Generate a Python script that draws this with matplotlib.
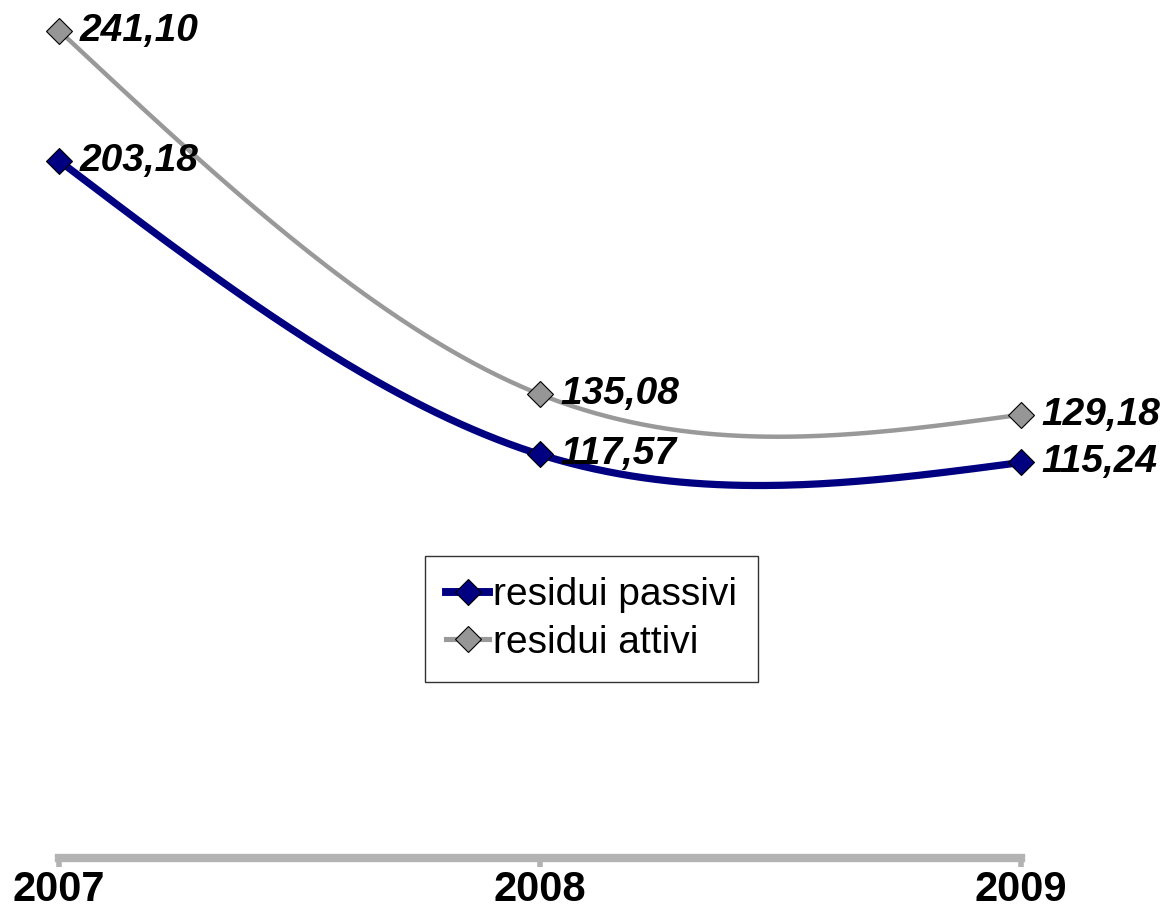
import matplotlib

matplotlib.use("Agg")
import matplotlib.pyplot as plt
import numpy as np

plt.rcParams["font.family"] = ["Liberation Sans", "DejaVu Sans"]

years = [2007, 2008, 2009]
residui_passivi = [203.18, 117.57, 115.24]
residui_attivi = [241.10, 135.08, 129.18]


def fmt(value: float) -> str:
    return f"{value:.2f}".replace(".", ",")


def smooth(xs, ys, n=80):
    # Excel-style smoothed line: Bezier segments, tangent (next - prev) / 6,
    # end control points halfway between the end point and its neighbour control.
    pts = np.column_stack([xs, ys]).astype(float)
    out = [pts[:1]]
    last = len(pts) - 1
    for i in range(last):
        p1, p2 = pts[i], pts[i + 1]
        c1 = p1 + (pts[i + 1] - pts[i - 1]) / 6 if i > 0 else None
        c2 = p2 - (pts[i + 2] - pts[i]) / 6 if i + 1 < last else None
        if c1 is None and c2 is None:
            c1, c2 = p1 + (p2 - p1) / 3, p2 - (p2 - p1) / 3
        elif c1 is None:
            c1 = (p1 + c2) / 2
        elif c2 is None:
            c2 = (p2 + c1) / 2
        t = np.linspace(0, 1, n)[1:, None]
        seg = (1 - t) ** 3 * p1 + 3 * (1 - t) ** 2 * t * c1 + 3 * (1 - t) * t ** 2 * c2 + t ** 3 * p2
        out.append(seg)
    curve = np.vstack(out)
    return curve[:, 0], curve[:, 1]


fig = plt.figure(figsize=(11.7, 9.17), dpi=100)
ax = fig.add_axes([59 / 1170, 1 - 858 / 917, (1021 - 59) / 1170, 858 / 917])

series = [
    ("residui passivi", residui_passivi, "#000080", "#000080", 5.2),
    ("residui attivi", residui_attivi, "#999999", "#969696", 3.2),
]
handles = []
for name, values, line_color, face, lw in series:
    sx, sy = smooth(years, values)
    ax.plot(sx, sy, color=line_color, lw=lw, solid_capstyle="butt", clip_on=False, zorder=2)
    ax.plot(years, values, ls="none", marker="D", ms=13.5, mfc=face, mec="black", mew=0.8,
            clip_on=False, zorder=3)
    (h,) = ax.plot([], [], color=line_color, lw=lw + 0.5, marker="D", ms=13.5, mfc=face,
                   mec="black", mew=0.8, label=name)
    handles.append(h)
    for x, v in zip(years, values):
        ax.annotate(fmt(v), (x, v), xytext=(15, 0), textcoords="offset points",
                    ha="left", va="center", fontsize=28, fontweight="bold",
                    fontstyle="italic", clip_on=False, zorder=4)

ax.set_xlim(2007, 2009)
ax.set_ylim(0, 250)
ax.set_yticks([])
for side in ["left", "top", "right"]:
    ax.spines[side].set_visible(False)
ax.spines["bottom"].set_color("#b3b3b3")
ax.spines["bottom"].set_linewidth(6)
ax.set_xticks(years)
ax.set_xticklabels([str(y) for y in years], fontsize=30, fontweight="bold")
ax.tick_params(axis="x", direction="out", length=6.5, width=4, color="#b3b3b3", pad=2)

leg = fig.legend(handles=handles, loc="center", bbox_to_anchor=(591.5 / 1170, 1 - 619 / 917),
                 fontsize=28, frameon=True, fancybox=False, edgecolor="black",
                 handlelength=1.1, handletextpad=0.1, borderpad=0.55, labelspacing=0.3,
                 borderaxespad=0)
leg.get_frame().set_linewidth(1.0)

fig.savefig("out.png", dpi=100)
